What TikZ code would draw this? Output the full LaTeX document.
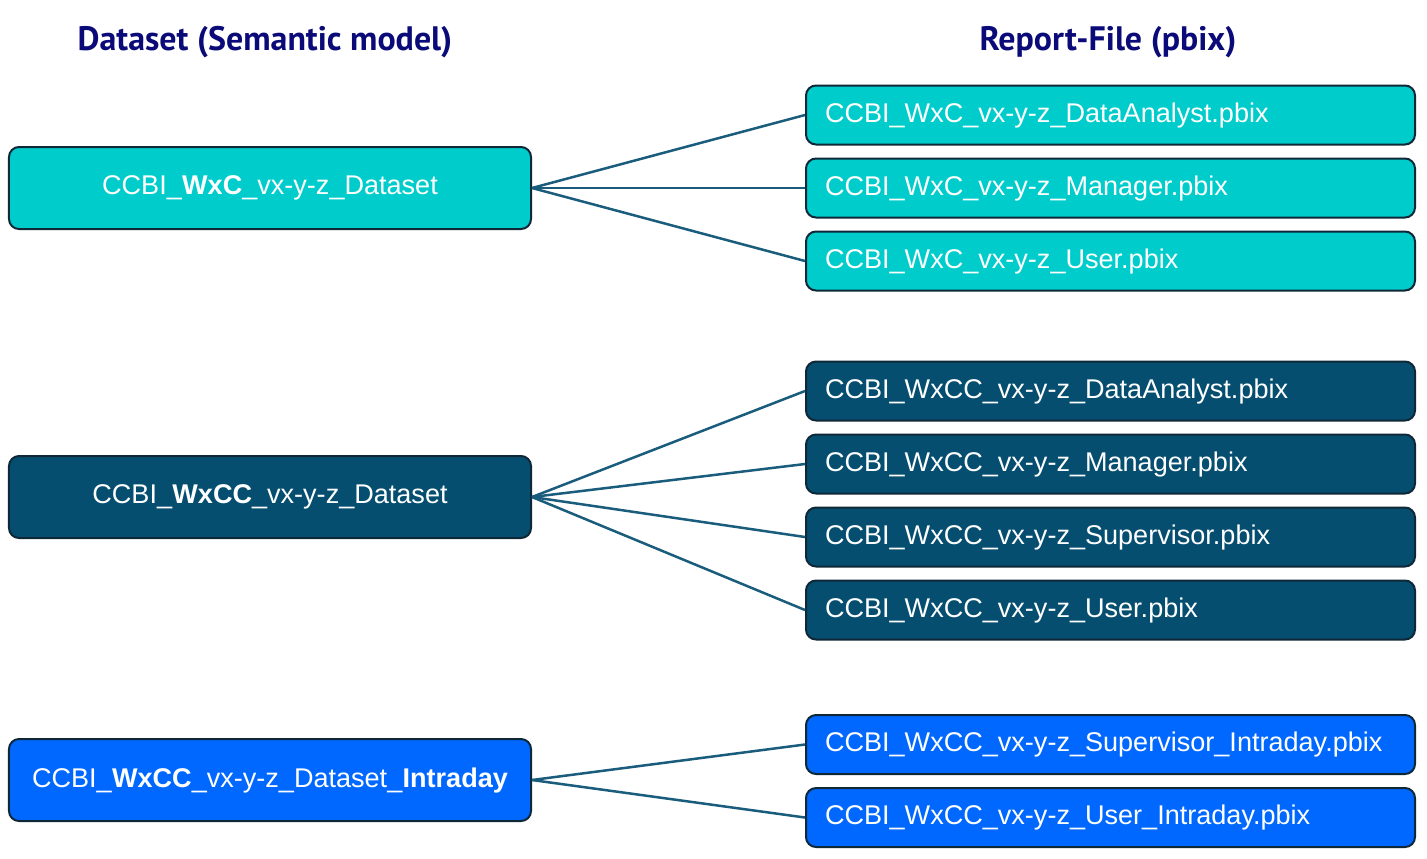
\documentclass[tikz,border=0pt]{standalone}
\usepackage{fontspec}
\setmainfont{Liberation Sans}
\newfontfamily\headfont{PT Sans}
\usepackage{tikz}
\usetikzlibrary{positioning, calc}
\definecolor{ccbi_teal}{RGB}{0,204,204}
\definecolor{ccbi_petrol}{RGB}{5,78,112}
\definecolor{ccbi_blue}{RGB}{0,104,255}
\definecolor{ccbi_border}{RGB}{14,40,56}
\definecolor{ccbi_line}{RGB}{26,92,124}
\definecolor{ccbi_navy}{RGB}{10,10,120}
\tikzset{
  heading/.style={font=\headfont\fontsize{19.3}{21}\selectfont\bfseries,text=ccbi_navy},
  dsbox/.style={rectangle,rounded corners=0.2cm,draw=ccbi_border,line width=0.04cm,text=white,font=\fontsize{15.4}{17}\selectfont,minimum width=10.44cm,minimum height=1.64cm},
  pbix/.style={rectangle,rounded corners=0.2cm,draw=ccbi_border,line width=0.04cm,text=white,font=\fontsize{15.4}{17}\selectfont,text width=11.42cm,align=left,inner xsep=0.38cm,minimum height=1.18cm},
  wxc/.style={fill=ccbi_teal},
  wxcc/.style={fill=ccbi_petrol},
  intra/.style={fill=ccbi_blue},
  link/.style={line width=0.05cm,ccbi_line},
}

\begin{document}
\begin{tikzpicture}
	    \useasboundingbox (0,0) rectangle (28.54,-17.16);
	    % headings
	    \node[heading] (hDS) at (5.3,-0.84) {Dataset (Semantic model)};
	    \node[heading] (hRF) at (22.16,-0.84) {Report-File (pbix)};
	    % datasets
	    \node[dsbox,wxc] (DS1) at (5.4,-3.76) {CCBI\_\textbf{WxC}\_vx-y-z\_Dataset};
	    \node[dsbox,wxcc] (DS2) at (5.4,-9.94) {CCBI\_\textbf{WxCC}\_vx-y-z\_Dataset};
	    \node[dsbox,intra] (DS3) at (5.4,-15.6) {CCBI\_\textbf{WxCC}\_vx-y-z\_Dataset\_\textbf{Intraday}};
	    % reports WxC
	    \node[pbix,wxc] (R11) at (22.21,-2.3) {CCBI\_WxC\_vx-y-z\_DataAnalyst.pbix};
	    \node[pbix,wxc,below=0.24cm of R11] (R12) {CCBI\_WxC\_vx-y-z\_Manager.pbix};
	    \node[pbix,wxc,below=0.24cm of R12] (R13) {CCBI\_WxC\_vx-y-z\_User.pbix};
	    % reports WxCC
	    \node[pbix,wxcc] (R21) at (22.21,-7.82) {CCBI\_WxCC\_vx-y-z\_DataAnalyst.pbix};
	    \node[pbix,wxcc,below=0.24cm of R21] (R22) {CCBI\_WxCC\_vx-y-z\_Manager.pbix};
	    \node[pbix,wxcc,below=0.24cm of R22] (R23) {CCBI\_WxCC\_vx-y-z\_Supervisor.pbix};
	    \node[pbix,wxcc,below=0.24cm of R23] (R24) {CCBI\_WxCC\_vx-y-z\_User.pbix};
	    % reports intraday
	    \node[pbix,intra] (R31) at (22.21,-14.89) {CCBI\_WxCC\_vx-y-z\_Supervisor\_Intraday.pbix};
	    \node[pbix,intra,below=0.24cm of R31] (R32) {CCBI\_WxCC\_vx-y-z\_User\_Intraday.pbix};
	    % links
	    \foreach \r in {R11,R12,R13} \draw[link] (DS1.east) -- (\r.west);
	    \foreach \r in {R21,R22,R23,R24} \draw[link] (DS2.east) -- (\r.west);
	    \foreach \r in {R31,R32} \draw[link] (DS3.east) -- (\r.west);
	\end{tikzpicture}
\end{document}
